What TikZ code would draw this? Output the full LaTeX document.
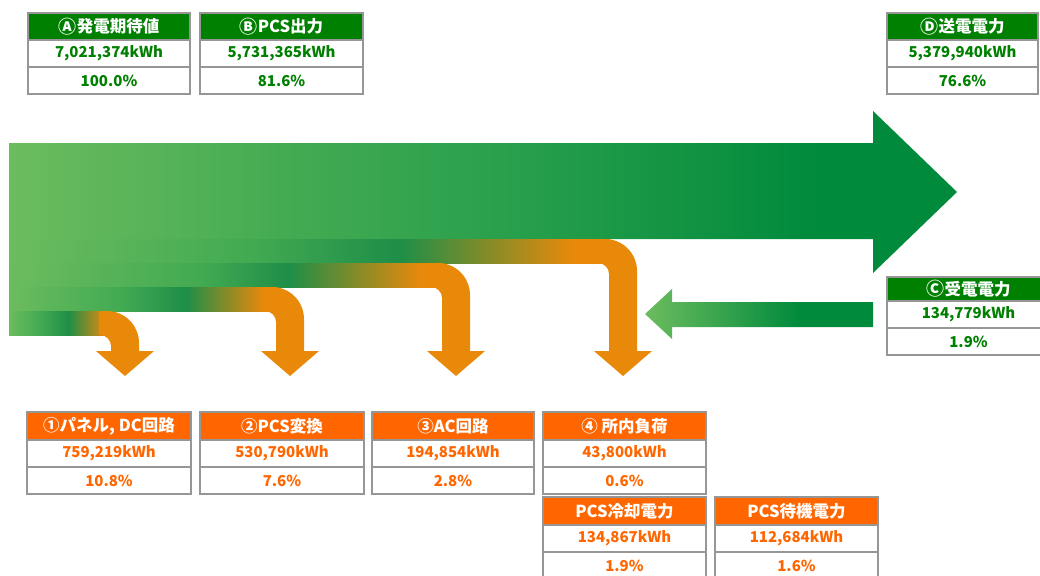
\documentclass[tikz,border=0pt]{standalone}
\usepackage{fontspec}
\setmainfont{Noto Sans CJK JP}
\definecolor{lg}{RGB}{108,188,94}
\definecolor{g1}{RGB}{66,170,82}
\definecolor{g2}{RGB}{42,160,76}
\definecolor{dg}{RGB}{0,138,60}
\definecolor{bdg}{RGB}{30,142,72}
\definecolor{org}{RGB}{233,137,10}
\definecolor{hgreen}{RGB}{0,128,0}
\definecolor{horange}{RGB}{255,102,0}
\definecolor{bgray}{RGB}{150,150,150}
\pgfdeclarehorizontalshading{mainsh}{100bp}{color(0bp)=(lg); color(25bp)=(lg); color(40.3bp)=(g1); color(50.9bp)=(g2); color(67.8bp)=(dg); color(100bp)=(dg)}
\pgfdeclarehorizontalshading{recvsh}{100bp}{color(0bp)=(lg); color(25bp)=(lg); color(59bp)=(dg); color(100bp)=(dg)}
\pgfdeclarehorizontalshading{bandfour}{100bp}{color(0bp)=(lg); color(25bp)=(lg); color(45.1bp)=(g1); color(57.5bp)=(bdg); color(72bp)=(org); color(100bp)=(org)}
\pgfdeclarehorizontalshading{bandthree}{100bp}{color(0bp)=(lg); color(25bp)=(lg); color(47.1bp)=(g1); color(57.3bp)=(bdg); color(72.6bp)=(org); color(100bp)=(org)}
\pgfdeclarehorizontalshading{bandtwo}{100bp}{color(0bp)=(lg); color(25bp)=(lg); color(45.9bp)=(g1); color(58bp)=(bdg); color(72.6bp)=(org); color(100bp)=(org)}
\pgfdeclarehorizontalshading{bandone}{100bp}{color(0bp)=(lg); color(25bp)=(lg); color(40bp)=(g1); color(54bp)=(bdg); color(72.5bp)=(org); color(100bp)=(org)}
% band bend: #1 arrow centre x, #2 yT
\newcommand\bendarrow[2]{%
  \pgfmathsetmacro\xL{#1-14}\pgfmathsetmacro\xR{#1+14}\pgfmathsetmacro\yT{#2}\pgfmathsetmacro\yB{#2+24}%
  \pgfmathsetmacro\xC{#1}%
  \fill[org] (\xL-12,\yT) -- (\xR-32,\yT) .. controls (\xR-14.33,\yT) and (\xR,\yT+14.33) .. (\xR,\yT+32)
    -- (\xR,351) -- (\xR+15,351) -- (\xC,376) -- (\xL-15,351) -- (\xL,351)
    -- (\xL,\yB+11) .. controls (\xL,\yB+4.9) and (\xL-4.9,\yB) .. (\xL-11,\yB) -- (\xL-12,\yB) -- cycle;}
\newcommand\mktable[9]{%
  \node[hdr, fill=#6, minimum width=#4, minimum height=#5, anchor=north west] (#1h) at (#2,#3) {#7};
  \node[cell, text=#6, minimum width=#4, anchor=north] (#1v) at (#1h.south) {#8};
  \node[cell, text=#6, minimum width=#4, anchor=north] (#1p) at (#1v.south) {#9};}
\newcommand\circl[1]{{\fontsize{18}{18}\selectfont\raisebox{-0.5pt}{#1}}}
\tikzset{
  hdr/.style={draw=bgray, line width=1.6pt, outer sep=0pt, inner sep=0pt, text=white,
    font=\fontsize{16.5}{18}\selectfont\bfseries},
  cell/.style={draw=bgray, line width=1.6pt, outer sep=0pt, inner sep=0pt, fill=white,
    minimum height=27, font=\fontsize{15}{17}\selectfont\bfseries}
}
\begin{document}
\begin{tikzpicture}[x=1pt,y=-1pt]
\path[use as bounding box] (0,0) rectangle (1040,575);
\clip (0,0) rectangle (1040,575);
% main arrow
\shade[shading=mainsh] (9,143) -- (873,143) -- (873,111) -- (957,192) -- (873,273) -- (873,239) -- (9,239) -- cycle;
% loss bands
\shade[shading=bandfour] (9,239) rectangle (610,263);
\bendarrow{623}{239}
\shade[shading=bandthree] (9,263) rectangle (443,287);
\bendarrow{456}{263}
\shade[shading=bandtwo] (9,287) rectangle (277,311);
\bendarrow{290}{287}
\shade[shading=bandone] (9,311) rectangle (112,335);
\bendarrow{125}{311}
% receive arrow
\shade[shading=recvsh] (873,302) -- (672,302) -- (672,289) -- (645,314) -- (672,339) -- (672,327) -- (873,327) -- cycle;
% tables
\mktable{ta}{28}{13}{162}{27}{hgreen}{\circl{Ⓐ}発電期待値}{7,021,374kWh}{100.0\%}
\mktable{tb}{200}{13}{163}{27}{hgreen}{\circl{Ⓑ}PCS出力}{5,731,365kWh}{81.6\%}
\mktable{td}{887}{13}{151}{27}{hgreen}{\circl{Ⓓ}送電電力}{5,379,940kWh}{76.6\%}
\mktable{tc}{887}{277}{163}{24}{hgreen}{\circl{Ⓒ}受電電力}{134,779kWh}{1.9\%}
\mktable{l1}{27}{412}{164}{28}{horange}{①パネル, DC回路}{759,219kWh}{10.8\%}
\mktable{l2}{200}{412}{164}{28}{horange}{②PCS変換}{530,790kWh}{7.6\%}
\mktable{l3}{372}{412}{162}{28}{horange}{③AC回路}{194,854kWh}{2.8\%}
\mktable{l4}{543}{412}{163}{28}{horange}{④ 所内負荷}{43,800kWh}{0.6\%}
\mktable{l5}{543}{497}{163}{28}{horange}{PCS冷却電力}{134,867kWh}{1.9\%}
\mktable{l6}{715}{497}{163}{28}{horange}{PCS待機電力}{112,684kWh}{1.6\%}
\end{tikzpicture}
\end{document}
